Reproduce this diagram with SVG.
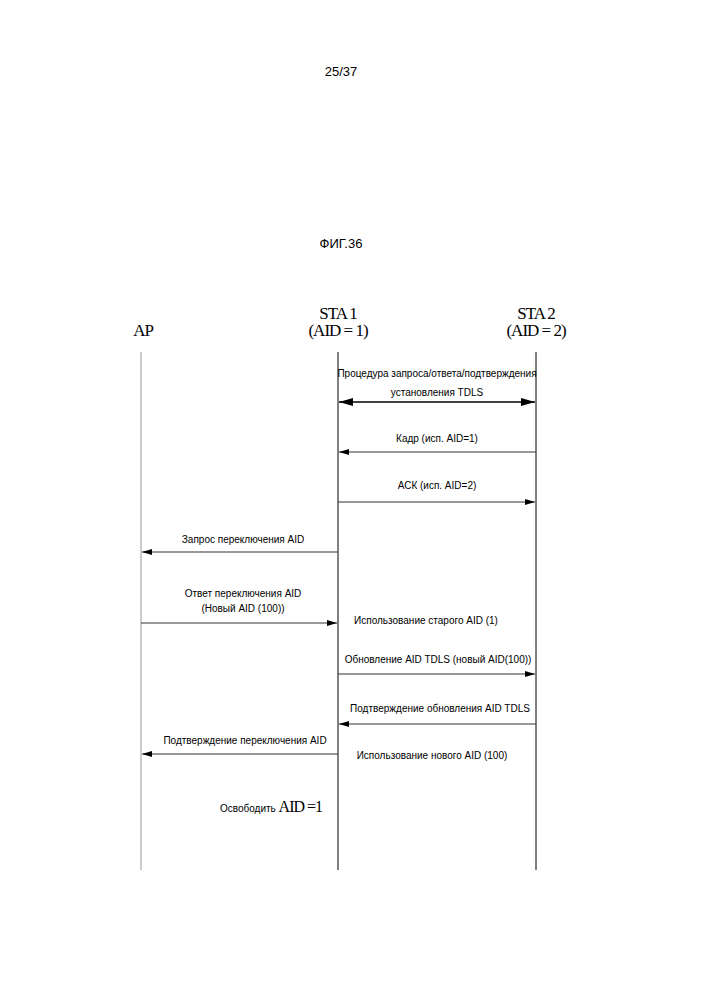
<svg xmlns="http://www.w3.org/2000/svg" width="707" height="1000" viewBox="0 0 707 1000">
<style>
.t{font-family:"Liberation Sans",Arial,sans-serif;font-size:10px;fill:#000}
.s{font-family:"Liberation Serif","Times New Roman",serif;font-size:17px;letter-spacing:-1px;fill:#000}
.h{font-family:"Liberation Sans",Arial,sans-serif;font-size:13px;fill:#000}
.m{stroke:#333;stroke-width:1;fill:none}
</style>
<defs>
<marker id="a" viewBox="0 0 10 6" refX="10" refY="3" markerWidth="10" markerHeight="6" orient="auto-start-reverse" markerUnits="userSpaceOnUse"><path d="M0,0L10,3L0,6z" fill="#000"/></marker>
<marker id="b" viewBox="0 0 14 8" refX="14" refY="4" markerWidth="14" markerHeight="8" orient="auto-start-reverse" markerUnits="userSpaceOnUse"><path d="M0,0L14,4L0,8z" fill="#000"/></marker>
</defs>
<rect width="707" height="1000" fill="#fff"/>
<text class="h" x="341" y="76" text-anchor="middle">25/37</text>
<text class="h" x="341" y="248" text-anchor="middle">ФИГ.36</text>
<g id="AP"><text class="s" x="143" y="336" text-anchor="middle">AP</text><line x1="141" y1="352" x2="141" y2="870" stroke="#bbb" stroke-width="1.5"/></g>
<g id="STA1"><text class="s" x="338" y="319" text-anchor="middle">STA 1</text><text class="s" x="338" y="336" text-anchor="middle">(AID = 1)</text><line x1="338" y1="352" x2="338" y2="870" stroke="#000"/></g>
<g id="STA2"><text class="s" x="536" y="319" text-anchor="middle">STA 2</text><text class="s" x="536" y="336" text-anchor="middle">(AID = 2)</text><line x1="536" y1="352" x2="536" y2="870" stroke="#000"/></g>
<g id="connectors">
<line x1="339" y1="402" x2="535" y2="402" stroke="#000" stroke-width="1.5" marker-start="url(#b)" marker-end="url(#b)"/>
<line class="m" x1="536" y1="452" x2="339" y2="452" marker-end="url(#a)"/>
<line class="m" x1="338" y1="502" x2="535" y2="502" marker-end="url(#a)"/>
<line class="m" x1="338" y1="552" x2="142" y2="552" marker-end="url(#a)" stroke="#777"/>
<line class="m" x1="141" y1="623" x2="337" y2="623" marker-end="url(#a)"/>
<line class="m" x1="338" y1="674" x2="535" y2="674" marker-end="url(#a)"/>
<line class="m" x1="536" y1="724" x2="339" y2="724" marker-end="url(#a)"/>
<line class="m" x1="338" y1="754" x2="142" y2="754" marker-end="url(#a)" stroke="#777"/>
</g>
<g id="labels">
<text class="t" x="437" y="377" text-anchor="middle" font-size="8.5">Процедура запроса/ответа/подтверждения</text>
<text class="t" x="437" y="396" text-anchor="middle" font-size="8.5">установления TDLS</text>
<text class="t" x="437" y="442" text-anchor="middle">Кадр (исп. AID=1)</text>
<text class="t" x="437" y="489" text-anchor="middle">АСК (исп. AID=2)</text>
<text class="t" x="243" y="543" text-anchor="middle">Запрос переключения AID</text>
<text class="t" x="243" y="597" text-anchor="middle">Ответ переключения AID</text>
<text class="t" x="243" y="612" text-anchor="middle">(Новый AID (100))</text>
<text class="t" x="426" y="624" text-anchor="middle">Использование старого AID (1)</text>
<text class="t" x="438" y="663" text-anchor="middle">Обновление AID TDLS (новый AID(100))</text>
<text class="t" x="440" y="712" text-anchor="middle">Подтверждение обновления AID TDLS</text>
<text class="t" x="245" y="744" text-anchor="middle">Подтверждение переключения AID</text>
<text class="t" x="432" y="759" text-anchor="middle">Использование нового AID (100)</text>
<text class="t" x="220" y="812">Освободить <tspan font-family="Liberation Serif,serif" font-size="16" letter-spacing="-1">AID =1</tspan></text>
</g>
</svg>
